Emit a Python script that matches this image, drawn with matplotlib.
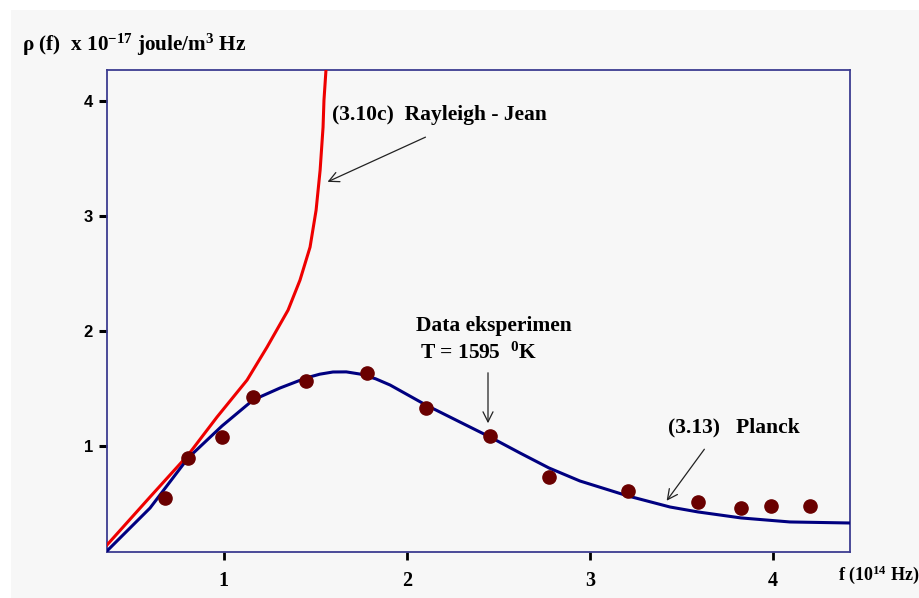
import matplotlib as mpl
import matplotlib.pyplot as plt
from matplotlib.patches import Rectangle

# data (f in 10^14 Hz, rho in 10^-17 joule/m^3 Hz)
f_data = [0.680, 0.806, 0.991, 1.161, 1.450, 1.783, 2.105, 2.455, 2.777, 3.208, 3.591, 3.826, 3.990, 4.203]
rho_data = [0.549, 0.897, 1.079, 1.427, 1.566, 1.635, 1.331, 1.088, 0.731, 0.610, 0.514, 0.462, 0.480, 0.480]

f_planck = [0.363, 0.598, 0.806, 0.991, 1.161, 1.308, 1.450, 1.525, 1.597, 1.670, 1.745, 1.830, 1.909,
            2.105, 2.291, 2.455, 2.619, 2.777, 2.946, 3.208, 3.438, 3.591, 3.826, 4.093, 4.421]
rho_planck = [0.089, 0.462, 0.897, 1.175, 1.401, 1.505, 1.592, 1.625, 1.644, 1.645, 1.626, 1.585, 1.531,
              1.357, 1.209, 1.079, 0.940, 0.810, 0.697, 0.567, 0.471, 0.428, 0.376, 0.341, 0.332]

f_rj = [0.363, 0.598, 0.806, 0.964, 1.128, 1.237, 1.352, 1.417, 1.472, 1.505, 1.527, 1.543, 1.548, 1.559]
rho_rj = [0.141, 0.558, 0.923, 1.253, 1.574, 1.860, 2.182, 2.442, 2.729, 3.050, 3.398, 3.771, 4.005, 4.268]

xticks = [1, 2, 3, 4]
yticks = [1, 2, 3, 4]

W, H = 920, 598
serif = 'Liberation Serif'
mpl.rcParams['mathtext.fontset'] = 'custom'
mpl.rcParams['mathtext.rm'] = 'Liberation Serif:bold'
mpl.rcParams['mathtext.it'] = 'Liberation Serif:bold'
mpl.rcParams['mathtext.bf'] = 'Liberation Serif:bold'

def fx(px): return px / W          # pixel -> figure fraction
def fy(py): return 1 - py / H

fig = plt.figure(figsize=(9.2, 5.98), dpi=100, facecolor='white')
fig.patches.append(Rectangle((fx(11), 0), 1, fy(10), transform=fig.transFigure,
                             facecolor='#f7f7f7', edgecolor='none', zorder=-10))

ax = fig.add_axes([fx(107), fy(552), fx(850) - fx(107), fy(70) - fy(552)])
ax.set_facecolor('#f7f7f7')
for s in ax.spines.values():
    s.set_color('#3c3c90')
    s.set_linewidth(1.3)

ax.plot(f_rj, rho_rj, color='#ee0000', lw=2.2, zorder=3)
ax.plot(f_planck, rho_planck, color='#000080', lw=2.2, zorder=3)
ax.plot(f_data, rho_data, 'o', color='#6a0000', markersize=9.5, zorder=4)

ax.set_xlim(0.363, 4.421)
ax.set_ylim(0.080, 4.268)
ax.set_xticks(xticks)
ax.set_yticks(yticks)
ax.set_xticklabels([str(t) for t in xticks], family=serif, weight='bold', fontsize=14.5)
ax.set_yticklabels([str(t) for t in yticks], family='Liberation Sans', weight='bold', fontsize=12)
ax.tick_params(axis='x', direction='out', length=6, width=2, pad=8, color='black')
ax.tick_params(axis='y', direction='out', length=6, width=2.2, pad=4, color='black')

# axis titles
fig.text(fx(22), fy(45), r'ρ (f)  x 10$^{-17}$ joule/m$^{3}$ Hz', family=serif, weight='bold',
         fontsize=15.3, ha='left', va='center')
fig.text(fx(919), fy(575), r'f (10$^{14}$ Hz)', family=serif, weight='bold',
         fontsize=13, ha='right', va='center')

# annotations
arr = dict(arrowstyle='->', color='#222222', lw=0.9, mutation_scale=18)
fs = 15.5
ax.annotate('', xy=(fx(325), fy(183)), xycoords='figure fraction',
            xytext=(fx(428), fy(136)), textcoords='figure fraction', arrowprops=arr)
fig.text(fx(332), fy(115), '(3.10c)  Rayleigh - Jean', family=serif, weight='bold',
         fontsize=fs, ha='left', va='center')

ax.annotate('', xy=(fx(488), fy(426)), xycoords='figure fraction',
            xytext=(fx(488), fy(370)), textcoords='figure fraction', arrowprops=arr)
fig.text(fx(416), fy(326), 'Data eksperimen', family=serif, weight='bold',
         fontsize=fs, ha='left', va='center')
fig.text(fx(420), fy(353), r'T = 1595  $^{0}$K', family=serif, weight='bold',
         fontsize=fs, ha='left', va='center')

ax.annotate('', xy=(fx(665), fy(503)), xycoords='figure fraction',
            xytext=(fx(706), fy(447)), textcoords='figure fraction', arrowprops=arr)
fig.text(fx(668), fy(427), '(3.13)   Planck', family=serif, weight='bold',
         fontsize=fs, ha='left', va='center')

fig.savefig('out.png', dpi=100, facecolor=fig.get_facecolor())
